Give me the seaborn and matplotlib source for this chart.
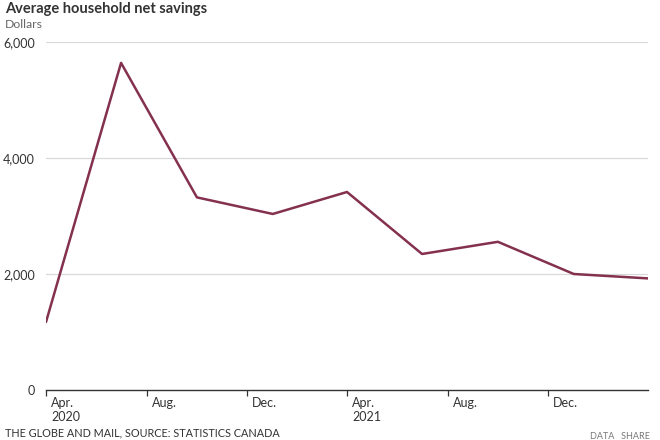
import matplotlib
matplotlib.use("Agg")
import matplotlib.pyplot as plt
import matplotlib.transforms as mtransforms
import seaborn as sns
import pandas as pd
import numpy as np

# Data
dates = ["2020-04-01", "2020-07-01", "2020-10-01", "2021-01-01", "2021-04-01",
         "2021-07-01", "2021-10-01", "2022-01-01", "2022-04-01"]
savings = [1172, 5640, 3321, 3035, 3414, 2345, 2555, 2000, 1924]
tick_dates = ["2020-04-01", "2020-08-01", "2020-12-01", "2021-04-01", "2021-08-01", "2021-12-01"]
tick_labels = ["Apr.\n2020", "Aug.", "Dec.", "Apr.\n2021", "Aug.", "Dec."]
y_ticks = [0, 2000, 4000, 6000]
y_labels = ["0", "2,000", "4,000", "6,000"]

sns.set_theme(style="white")
plt.rcParams['font.family'] = ['Lato', 'DejaVu Sans']

df = pd.DataFrame({"date": pd.to_datetime(dates), "savings": savings})

fig = plt.figure(figsize=(6.6, 4.4), dpi=100)
ax = fig.add_axes([46/660, 1 - 390/440, (648-46)/660, (390-42)/440])

sns.lineplot(data=df, x="date", y="savings", ax=ax, color="#84304f", linewidth=1.8)

ax.set_xlim(pd.Timestamp("2020-04-01"), pd.Timestamp("2022-04-01"))
ax.set_ylim(0, 6000)
ax.set_xlabel("")
ax.set_ylabel("")

# grid
for yt in y_ticks[1:]:
    ax.axhline(yt, color="#d9d9d9", linewidth=0.9, zorder=0)
for s in ["top", "right", "left"]:
    ax.spines[s].set_visible(False)
ax.spines["bottom"].set_color("#333333")
ax.spines["bottom"].set_linewidth(1.0)

ax.set_yticks(y_ticks)
ax.set_yticklabels(y_labels, fontsize=9, color="#333333")
ax.tick_params(axis="y", length=0, pad=8)

ax.set_xticks(pd.to_datetime(tick_dates))
ax.set_xticklabels(tick_labels, fontsize=9, color="#333333", linespacing=1.25)
ax.tick_params(axis="x", bottom=True, length=4, width=0.9, color="#333333", direction="out", pad=1)
offset = mtransforms.ScaledTranslation(5/100, 0, fig.dpi_scale_trans)
for lab in ax.get_xticklabels():
    lab.set_horizontalalignment("left")
    lab.set_verticalalignment("top")
    lab.set_transform(lab.get_transform() + offset)

fig.text(5/660, 1 - 2/440, "Average household net savings", fontsize=10.5, fontweight="bold",
         color="#333333", ha="left", va="top")
fig.text(5/660, 1 - 19/440, "Dollars", fontsize=8.8, color="#666666", ha="left", va="top")
fig.text(5/660, 1 - 427/440, "THE GLOBE AND MAIL, SOURCE: STATISTICS CANADA", fontsize=7.8,
         color="#333333", ha="left", va="top")
fig.text(650/660, 1 - 432/440, "DATA   SHARE", fontsize=6.5, color="#777777", ha="right", va="top")

fig.savefig("out.png", dpi=100)
